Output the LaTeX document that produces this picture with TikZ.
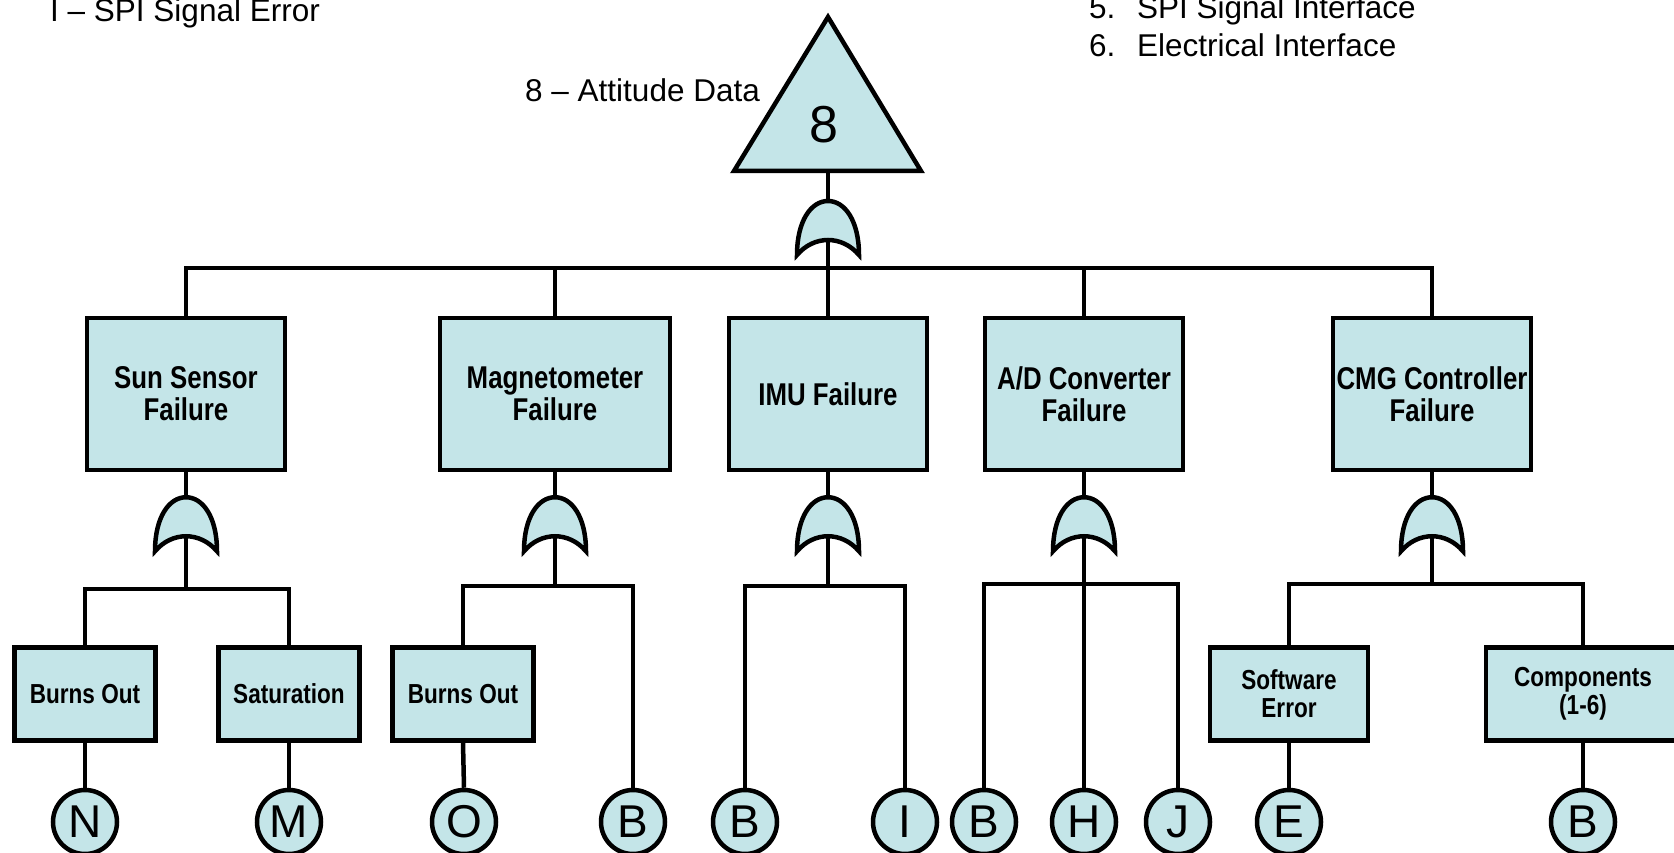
\documentclass[tikz,border=0pt]{standalone}
\usepackage{fontspec}
\setmainfont{Liberation Sans}
\newfontfamily\narrowbf[FakeStretch=0.82]{Liberation Sans Bold}
\usetikzlibrary{positioning}
\definecolor{evtfill}{RGB}{196,229,232}
\tikzset{
  wire/.style    = {line width=4.5pt},
  basic/.style   = {draw, wire, fill=evtfill, rectangle, align=center, inner sep=0pt},
  failure/.style = {basic, minimum width=198pt, minimum height=152pt,
                    font=\fontsize{31.5}{32}\selectfont\narrowbf},
  cause/.style   = {basic, minimum width=141pt, minimum height=93pt,
                    font=\fontsize{27.5}{28}\selectfont\narrowbf},
  xfer/.style    = {draw, wire, fill=evtfill, circle, minimum size=64pt, inner sep=0pt,
                    font=\fontsize{46}{46}\selectfont},
  note/.style    = {inner sep=0pt, anchor=base west, font=\fontsize{31.5}{38}\selectfont},
  orgate/.pic    = {
    \draw[wire, fill=evtfill] (-31,54) .. controls (-31,20) and (-17,0) .. (0,0)
      .. controls (17,0) and (31,20) .. (31,54)
      .. controls (14,34) and (-14,34) .. cycle;
    \coordinate (-top) at (0,0);
    \coordinate (-in) at (0,39);
  }
}

\begin{document}
\begin{tikzpicture}[x=1pt, y=-1pt]
\useasboundingbox (0,0) rectangle (1674,853);
\clip (0,0) rectangle (1674,853);

% notes round the tree
\node[note] (lgi) at (50,22) {I – SPI Signal Error};
\node[note] (lg5n) at (1089,19) {5.};
\node[note] (lg5) at (1137,19) {SPI Signal Interface};
\node[note] (lg6n) at (1089,57) {6.};
\node[note] (lg6) at (1137,57) {Electrical Interface};
\node[note] (lg8) at (525,102) {8 – Attitude Data};

% top event, transferred in as 8
\draw[wire, fill=evtfill] (828,17) -- (921,171) -- (734,171) -- cycle;
\node[inner sep=0pt, font=\fontsize{52}{52}\selectfont] (top) at (824,125) {8};
\coordinate (topbase) at (828,171);
\pic (g0) at (828,201) {orgate};

% the first level, one box per unit
\node[failure] (sun) at (186,394) {Sun Sensor\\Failure};
\node[failure, minimum width=230pt] (mag) at (555,394) {Magnetometer\\Failure};
\node[failure] (imu) at (828,394) {IMU Failure};
\node[failure] (adc) at (1084,394) {A/D Converter\\Failure};
\node[failure] (cmg) at (1432,394) {CMG Controller\\Failure};

\foreach \n in {sun,mag,imu,adc,cmg}
  \pic (g\n) at ([yshift=-25pt]\n.south) {orgate};

% the second level, basic causes
\node[cause] (sbo) at (85,694) {Burns Out};
\node[cause] (sat) at (289,694) {Saturation};
\node[cause] (mbo) at (463,694) {Burns Out};
\node[cause, minimum width=158pt] (swe) at (1289,694) {Software\\Error};
\node[cause, minimum width=194pt] (cmp) at (1583,694) {Components\\(1-6)};

% transfer circles
\foreach \nm/\x/\lbl in {xn/85/N, xm/289/M, xo/464/O, xb1/633/B, xb2/745/B, xi/905/I,
                         xb3/984/B, xh/1084/H, xj/1178/J, xe/1289/E, xb4/1583/B}
  \node[xfer] (\nm) at (\x,822) {\lbl};

% connectors
\coordinate (b0) at (828,268);
\coordinate (j1) at (186,589);
\coordinate (j2) at (555,586);
\coordinate (j3) at (828,586);
\coordinate (j4) at (1084,584);
\coordinate (j5) at (1432,584);

\draw[wire] (topbase) -- (g0-top);
\draw[wire] (g0-in) -- (imu.north);
\draw[wire] (sun.north) |- (b0) -| (cmg.north);
\foreach \n in {mag,adc}
  \draw[wire] (\n.north) -- (\n.north |- b0);
\foreach \n in {sun,mag,imu,adc,cmg}
  \draw[wire] (\n.south) -- (g\n-top);

\draw[wire] (gsun-in) -- (j1);
\draw[wire] (sbo.north) |- (j1) -| (sat.north);
\draw[wire] (gmag-in) -- (j2);
\draw[wire] (mbo.north) |- (j2) -| (xb1.north);
\draw[wire] (gimu-in) -- (j3);
\draw[wire] (xb2.north) |- (j3) -| (xi.north);
\draw[wire] (gadc-in) -- (xh.north);
\draw[wire] (xb3.north) |- (j4) -| (xj.north);
\draw[wire] (gcmg-in) -- (j5);
\draw[wire] (swe.north) |- (j5) -| (cmp.north);
\foreach \a/\b in {sbo/xn, sat/xm, mbo/xo, swe/xe, cmp/xb4}
  \draw[wire] (\a.south) -- (\b.north);
\end{tikzpicture}
\end{document}
